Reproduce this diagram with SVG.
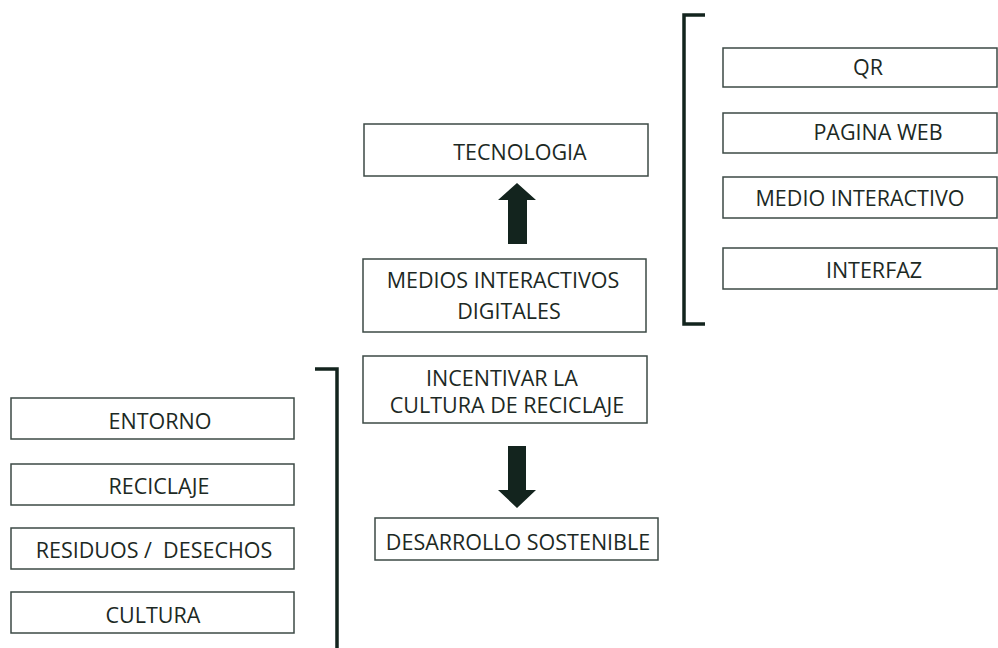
<svg xmlns="http://www.w3.org/2000/svg" width="998" height="648" viewBox="0 0 998 648">
<style>
.box{fill:#fff;stroke:#3c4a45;stroke-width:1.5}
.t{font-family:"Open Sans","Noto Sans",sans-serif;font-size:21.5px;fill:#1c2924;text-anchor:middle}
.br{fill:none;stroke:#13241e;stroke-width:3.5}
.ar{fill:#13241e}
</style>
<rect width="998" height="648" fill="#fff"/>
<g id="brackets">
<path class="br" d="M705,15 H684 V324 H705"/>
<path class="br" d="M315,369 H337 V650"/>
</g>
<g id="connectors">
<path class="ar" d="M508,244 V200 H498 L517,183 L536,200 H527 V244 Z"/>
<path class="ar" d="M508,446 V490 H498 L517,508 L536,490 H526 V446 Z"/>
</g>
<g id="qr"><rect class="box" x="723" y="48" width="274" height="39"/><text class="t" x="868" y="75">QR</text></g>
<g id="pagina-web"><rect class="box" x="723" y="113" width="274" height="40"/><text class="t" x="878" y="140">PAGINA WEB</text></g>
<g id="medio-interactivo"><rect class="box" x="723" y="177" width="274" height="41"/><text class="t" x="860" y="206">MEDIO INTERACTIVO</text></g>
<g id="interfaz"><rect class="box" x="723" y="248" width="274" height="41"/><text class="t" x="874" y="278">INTERFAZ</text></g>
<g id="tecnologia"><rect class="box" x="364" y="124" width="284" height="52"/><text class="t" x="520" y="160">TECNOLOGIA</text></g>
<g id="medios"><rect class="box" x="363" y="259" width="283" height="73"/><text class="t" x="503" y="288">MEDIOS INTERACTIVOS</text><text class="t" x="509" y="319">DIGITALES</text></g>
<g id="incentivar"><rect class="box" x="363" y="356" width="284" height="67"/><text class="t" x="502" y="386">INCENTIVAR LA</text><text class="t" x="507" y="413">CULTURA DE RECICLAJE</text></g>
<g id="desarrollo"><rect class="box" x="375" y="518" width="283" height="42"/><text class="t" x="518" y="550">DESARROLLO SOSTENIBLE</text></g>
<g id="entorno"><rect class="box" x="11" y="398" width="283" height="41"/><text class="t" x="160" y="429">ENTORNO</text></g>
<g id="reciclaje"><rect class="box" x="11" y="464" width="283" height="41"/><text class="t" x="159" y="494">RECICLAJE</text></g>
<g id="residuos"><rect class="box" x="11" y="528" width="283" height="41"/><text class="t" x="154" y="558" xml:space="preserve">RESIDUOS /  DESECHOS</text></g>
<g id="cultura"><rect class="box" x="11" y="592" width="283" height="41"/><text class="t" x="153" y="623">CULTURA</text></g>
</svg>
